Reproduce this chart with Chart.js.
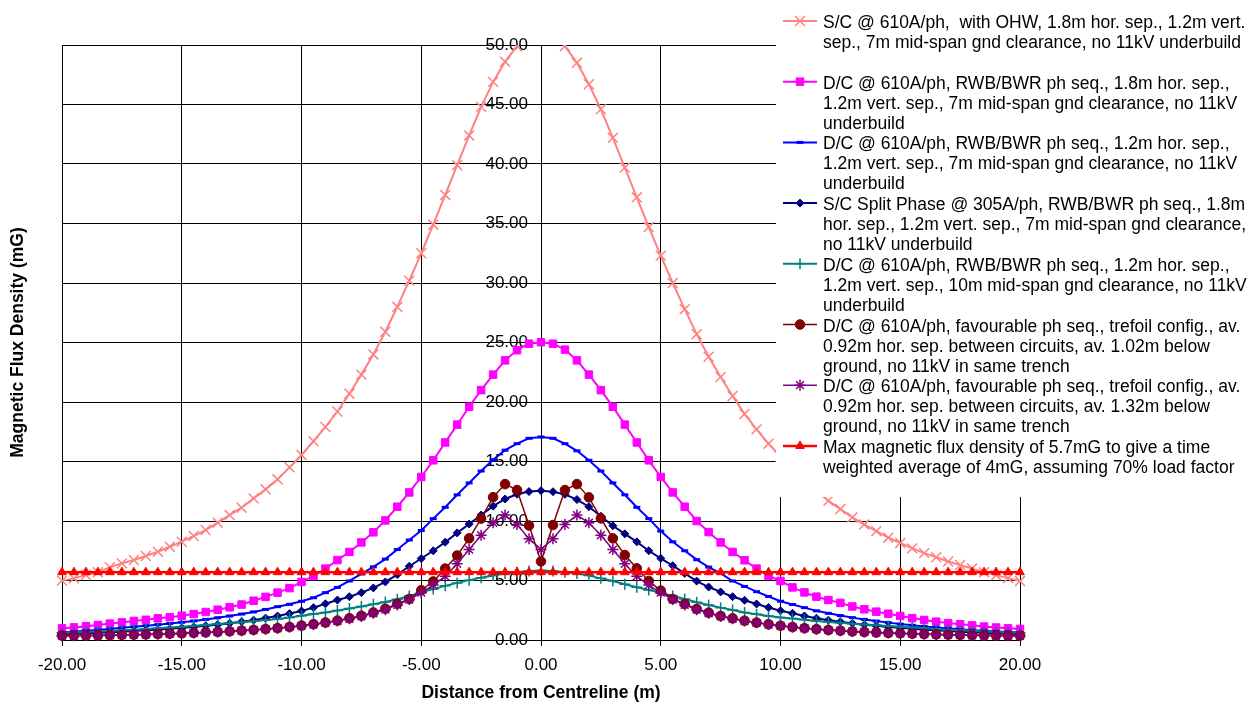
<!DOCTYPE html>
<html lang="en">
<head>
<meta charset="UTF-8">
<script src="https://cdn.jsdelivr.net/npm/chart.js"></script>
<style>
  body { margin: 0; background: #fff; }
</style>
</head>
<body>
<canvas id="fluxChart" width="1255" height="704"></canvas>
<script>
// distance from centreline (m), one reading every 0.5 m
const distances = [
  -20, -19.5, -19, -18.5, -18, -17.5, -17, -16.5, -16, -15.5,
  -15, -14.5, -14, -13.5, -13, -12.5, -12, -11.5, -11, -10.5,
  -10, -9.5, -9, -8.5, -8, -7.5, -7, -6.5, -6, -5.5,
  -5, -4.5, -4, -3.5, -3, -2.5, -2, -1.5, -1, -0.5,
  0,
  0.5, 1, 1.5, 2, 2.5, 3, 3.5, 4, 4.5, 5,
  5.5, 6, 6.5, 7, 7.5, 8, 8.5, 9, 9.5, 10,
  10.5, 11, 11.5, 12, 12.5, 13, 13.5, 14, 14.5, 15,
  15.5, 16, 16.5, 17, 17.5, 18, 18.5, 19, 19.5, 20
];

// magnetic flux density (mG)
const scWithOhw = [
  4.99, 5.18, 5.46, 5.69, 6.11, 6.44, 6.72, 7.06, 7.42, 7.84,
  8.26, 8.74, 9.24, 9.86, 10.5, 11.12, 11.9, 12.66, 13.5, 14.51,
  15.55, 16.7, 17.9, 19.2, 20.7, 22.3, 24.0, 25.9, 28.0, 30.2,
  32.5, 34.9, 37.4, 39.9, 42.4, 44.8, 46.9, 48.6, 49.9, 50.9,
  51.3,
  50.9, 49.9, 48.5, 46.7, 44.6, 42.2, 39.7, 37.2, 34.7, 32.3,
  30.0, 27.8, 25.7, 23.8, 22.1, 20.5, 19.0, 17.7, 16.5, 15.4,
  14.4, 13.4, 12.5, 11.7, 11.0, 10.3, 9.7, 9.15, 8.6, 8.15,
  7.7, 7.3, 6.95, 6.6, 6.3, 6.0, 5.7, 5.45, 5.2, 4.95
];
const dc18Hor = [
  0.98, 1.06, 1.16, 1.26, 1.38, 1.48, 1.6, 1.7, 1.82, 1.92,
  2.04, 2.18, 2.35, 2.54, 2.75, 2.98, 3.3, 3.62, 3.98, 4.36,
  4.88, 5.38, 6.0, 6.72, 7.4, 8.2, 9.05, 10.05, 11.2, 12.4,
  13.7, 15.1, 16.6, 18.1, 19.6, 21.0, 22.3, 23.5, 24.35, 24.9,
  25.02,
  24.9, 24.4, 23.5, 22.3, 21.0, 19.6, 18.1, 16.6, 15.1, 13.7,
  12.4, 11.2, 10.0, 9.07, 8.2, 7.4, 6.7, 6.0, 5.4, 4.96,
  4.42, 4.0, 3.64, 3.36, 3.12, 2.82, 2.58, 2.38, 2.21, 2.02,
  1.84, 1.68, 1.54, 1.42, 1.32, 1.23, 1.13, 1.05, 0.98, 0.93
];
const dc12Hor = [
  0.64, 0.7, 0.77, 0.84, 0.93, 1.02, 1.11, 1.2, 1.29, 1.39,
  1.49, 1.6, 1.73, 1.87, 2.02, 2.18, 2.36, 2.57, 2.8, 3.0,
  3.25, 3.55, 3.98, 4.42, 4.96, 5.55, 6.15, 6.8, 7.6, 8.4,
  9.2, 10.2, 11.15, 12.2, 13.2, 14.2, 15.15, 15.95, 16.5, 16.95,
  17.06,
  16.95, 16.5, 15.9, 15.1, 14.2, 13.2, 12.2, 11.15, 10.2, 9.15,
  8.25, 7.5, 6.75, 6.13, 5.6, 4.96, 4.5, 4.06, 3.66, 3.26,
  2.98, 2.72, 2.45, 2.24, 2.05, 1.88, 1.73, 1.59, 1.46, 1.34,
  1.24, 1.14, 1.05, 0.97, 0.9, 0.83, 0.77, 0.72, 0.67, 0.63
];
const scSplitPhase = [
  0.5, 0.53, 0.57, 0.61, 0.65, 0.7, 0.75, 0.81, 0.87, 0.94,
  1.02, 1.1, 1.19, 1.29, 1.4, 1.53, 1.67, 1.84, 2.02, 2.22,
  2.44, 2.72, 3.04, 3.36, 3.64, 3.98, 4.38, 4.88, 5.5, 6.2,
  6.85, 7.5, 8.22, 9.0, 9.75, 10.5, 11.25, 11.85, 12.25, 12.47,
  12.55,
  12.46, 12.24, 11.8, 11.2, 10.4, 9.6, 8.92, 8.25, 7.5, 6.86,
  6.25, 5.6, 4.95, 4.45, 4.04, 3.64, 3.34, 3.03, 2.73, 2.46,
  2.24, 2.02, 1.83, 1.67, 1.53, 1.4, 1.29, 1.19, 1.1, 1.02,
  0.94, 0.87, 0.81, 0.75, 0.7, 0.65, 0.61, 0.57, 0.53, 0.5
];
const dc12Hor10m = [
  0.6, 0.63, 0.67, 0.71, 0.76, 0.81, 0.86, 0.92, 0.98, 1.05,
  1.12, 1.19, 1.26, 1.34, 1.42, 1.5, 1.58, 1.67, 1.77, 1.9,
  2.04, 2.18, 2.32, 2.48, 2.64, 2.82, 3.0, 3.2, 3.42, 3.7,
  4.0, 4.28, 4.55, 4.8, 5.03, 5.24, 5.42, 5.58, 5.7, 5.79,
  5.83,
  5.79, 5.7, 5.58, 5.41, 5.18, 4.96, 4.68, 4.43, 4.2, 3.98,
  3.7, 3.45, 3.17, 2.94, 2.72, 2.52, 2.32, 2.16, 2.02, 1.9,
  1.8, 1.7, 1.6, 1.52, 1.44, 1.37, 1.3, 1.23, 1.17, 1.11,
  1.05, 0.99, 0.93, 0.87, 0.82, 0.77, 0.72, 0.68, 0.64, 0.6
];
const trefoil102 = [
  0.36, 0.37, 0.38, 0.39, 0.41, 0.43, 0.45, 0.47, 0.5, 0.53,
  0.56, 0.6, 0.64, 0.68, 0.73, 0.79, 0.85, 0.92, 1.0, 1.1,
  1.21, 1.33, 1.47, 1.63, 1.83, 2.04, 2.31, 2.63, 3.04, 3.45,
  4.18, 4.92, 6.0, 7.1, 8.54, 10.2, 12.0, 13.1, 12.6, 9.62,
  6.6,
  9.66, 12.6, 13.1, 11.99, 10.22, 8.54, 7.14, 6.02, 4.96, 4.15,
  3.45, 3.03, 2.61, 2.3, 2.02, 1.82, 1.62, 1.46, 1.32, 1.2,
  1.09, 0.99, 0.91, 0.84, 0.78, 0.72, 0.67, 0.63, 0.59, 0.56,
  0.53, 0.5, 0.47, 0.45, 0.43, 0.41, 0.39, 0.38, 0.37, 0.36
];
const trefoil132 = [
  0.35, 0.36, 0.37, 0.38, 0.4, 0.42, 0.44, 0.46, 0.49, 0.52,
  0.55, 0.59, 0.63, 0.67, 0.72, 0.78, 0.84, 0.91, 0.99, 1.08,
  1.18, 1.3, 1.44, 1.59, 1.78, 1.98, 2.25, 2.55, 2.95, 3.4,
  3.98, 4.62, 5.35, 6.4, 7.6, 8.8, 9.85, 10.5, 9.7, 8.5,
  7.6,
  8.5, 9.7, 10.5, 9.85, 8.8, 7.6, 6.4, 5.35, 4.62, 3.98,
  3.4, 2.95, 2.55, 2.25, 1.98, 1.78, 1.59, 1.44, 1.3, 1.18,
  1.08, 0.99, 0.91, 0.84, 0.78, 0.72, 0.67, 0.63, 0.59, 0.55,
  0.52, 0.49, 0.46, 0.44, 0.42, 0.4, 0.38, 0.37, 0.36, 0.35
];
const maxLimit = [
  5.7, 5.7, 5.7, 5.7, 5.7, 5.7, 5.7, 5.7, 5.7, 5.7,
  5.7, 5.7, 5.7, 5.7, 5.7, 5.7, 5.7, 5.7, 5.7, 5.7,
  5.7, 5.7, 5.7, 5.7, 5.7, 5.7, 5.7, 5.7, 5.7, 5.7,
  5.7, 5.7, 5.7, 5.7, 5.7, 5.7, 5.7, 5.7, 5.7, 5.7,
  5.7,
  5.7, 5.7, 5.7, 5.7, 5.7, 5.7, 5.7, 5.7, 5.7, 5.7,
  5.7, 5.7, 5.7, 5.7, 5.7, 5.7, 5.7, 5.7, 5.7, 5.7,
  5.7, 5.7, 5.7, 5.7, 5.7, 5.7, 5.7, 5.7, 5.7, 5.7,
  5.7, 5.7, 5.7, 5.7, 5.7, 5.7, 5.7, 5.7, 5.7, 5.7
];

// legend text, already broken into the lines of the original
const legendLines = [
  ['S/C @ 610A/ph,  with OHW, 1.8m hor. sep., 1.2m vert.', 'sep., 7m mid-span gnd clearance, no 11kV underbuild'],
  ['D/C @ 610A/ph, RWB/BWR ph seq., 1.8m hor. sep.,', '1.2m vert. sep., 7m mid-span gnd clearance, no 11kV', 'underbuild'],
  ['D/C @ 610A/ph, RWB/BWR ph seq., 1.2m hor. sep.,', '1.2m vert. sep., 7m mid-span gnd clearance, no 11kV', 'underbuild'],
  ['S/C Split Phase @ 305A/ph, RWB/BWR ph seq., 1.8m', 'hor. sep., 1.2m vert. sep., 7m mid-span gnd clearance,', 'no 11kV underbuild'],
  ['D/C @ 610A/ph, RWB/BWR ph seq., 1.2m hor. sep.,', '1.2m vert. sep., 10m mid-span gnd clearance, no 11kV', 'underbuild'],
  ['D/C @ 610A/ph, favourable ph seq., trefoil config., av.', '0.92m hor. sep. between circuits, av. 1.02m below', 'ground, no 11kV in same trench'],
  ['D/C @ 610A/ph, favourable ph seq., trefoil config., av.', '0.92m hor. sep. between circuits, av. 1.32m below', 'ground, no 11kV in same trench'],
  ['Max magnetic flux density of 5.7mG to give a time', 'weighted average of 4mG, assuming 70% load factor']
];

const FONT = '"Liberation Sans", Arial, sans-serif';

function series(values, color, style, radius, lineW, markerW) {
  return {
    data: distances.map((d, i) => ({ x: d, y: values[i] })),
    borderColor: color,
    backgroundColor: color,
    borderWidth: lineW,
    pointStyle: style,
    pointRadius: radius,
    pointBackgroundColor: color,
    pointBorderColor: color,
    pointBorderWidth: markerW,
    tension: 0,
    clip: { left: 12, top: 0, right: 12, bottom: 12 }
  };
}

const datasets = [
  series(scWithOhw, '#FF8080', 'crossRot', 7, 2, 1.5),
  series(dc18Hor, '#FF00FF', 'rect', 5.3, 2, 1),
  series(dc12Hor, '#0000FF', 'line', 3.5, 2, 3),
  series(scSplitPhase, '#000080', 'rectRot', 4, 2, 1),
  series(dc12Hor10m, '#008080', 'cross', 5.5, 2, 1.5),
  series(trefoil102, '#800000', 'circle', 4.8, 1.5, 1),
  series(trefoil132, '#800080', 'star', 5.5, 1.5, 1.5),
  series(maxLimit, '#FF0000', 'triangle', 5, 2.5, 1)
];
datasets.forEach((ds, i) => {
  ds.label = legendLines[i].join(' ');
  ds.order = datasets.length - i; // later series drawn on top, like the original
});

// legend panel drawn over the upper right of the plot
const sideLegend = {
  id: 'sideLegend',
  afterDraw(chart) {
    const ctx = chart.ctx;
    const left = 776;
    ctx.save();
    ctx.fillStyle = '#fff';
    ctx.fillRect(left, 0, chart.width - left, 497);
    ctx.font = '17.5px ' + FONT;
    ctx.textAlign = 'left';
    ctx.textBaseline = 'alphabetic';
    chart.data.datasets.forEach((ds, i) => {
      const y = 21 + i * 60.7;
      ctx.strokeStyle = ds.borderColor;
      ctx.lineWidth = ds.borderWidth;
      ctx.beginPath();
      ctx.moveTo(783, y);
      ctx.lineTo(817, y);
      ctx.stroke();
      ctx.fillStyle = ds.pointBackgroundColor;
      ctx.strokeStyle = ds.pointBorderColor;
      ctx.lineWidth = ds.pointBorderWidth;
      Chart.helpers.drawPoint(ctx, {
        pointStyle: ds.pointStyle,
        radius: ds.pointRadius,
        borderWidth: ds.pointBorderWidth,
        rotation: 0
      }, 800, y);
      ctx.fillStyle = '#000';
      legendLines[i].forEach((line, j) => {
        ctx.fillText(line, 823, y + 7 + j * 20);
      });
    });
    ctx.restore();
  }
};

new Chart(document.getElementById('fluxChart'), {
  type: 'line',
  data: { datasets: datasets },
  plugins: [sideLegend],
  options: {
    responsive: false,
    animation: false,
    devicePixelRatio: 1,
    events: [],
    layout: { padding: { left: 0, top: 45, right: 235, bottom: 0 } },
    plugins: {
      legend: { display: false },
      tooltip: { enabled: false }
    },
    scales: {
      x: {
        type: 'linear',
        min: -20,
        max: 20,
        ticks: {
          stepSize: 5,
          padding: 9,
          color: '#000',
          maxRotation: 0,
          autoSkip: false,
          font: { size: 17, family: FONT },
          callback: v => v.toFixed(2)
        },
        grid: { color: '#000', lineWidth: 1, tickLength: 6 },
        border: { color: '#000' },
        title: {
          display: true,
          text: 'Distance from Centreline (m)',
          color: '#000',
          padding: 0,
          font: { size: 17.5, weight: 'bold', family: FONT }
        },
        afterFit: s => { s.height = 64; }
      },
      y: {
        type: 'linear',
        position: 'center',
        min: 0,
        max: 50,
        ticks: {
          stepSize: 5,
          padding: 8,
          color: '#000',
          font: { size: 17, family: FONT },
          callback: v => v.toFixed(2)
        },
        grid: { color: '#000', lineWidth: 1, tickLength: 5 },
        border: { color: '#000' }
      },
      yTitle: {
        type: 'linear',
        position: 'left',
        min: 0,
        max: 50,
        ticks: { display: false },
        grid: { display: false },
        border: { display: false },
        title: {
          display: true,
          text: 'Magnetic Flux Density (mG)',
          color: '#000',
          padding: { top: 8, bottom: 0 },
          font: { size: 17.5, weight: 'bold', family: FONT }
        },
        afterFit: s => { s.width = 62; }
      }
    }
  }
});
</script>
</body>
</html>
